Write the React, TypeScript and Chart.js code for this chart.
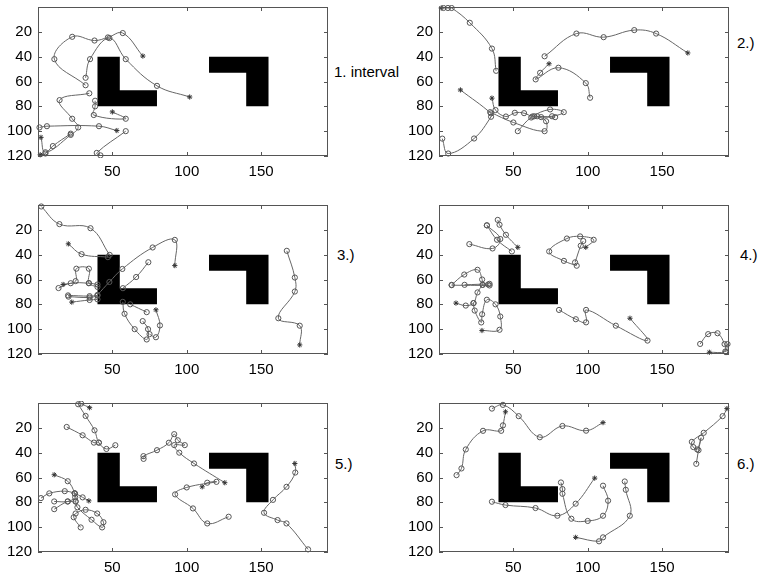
import React, { useEffect, useRef } from "react";
import { Chart, registerables } from "chart.js";
Chart.register(...registerables);

type Pt = [number, number];

// Axis definition (image coordinates, y downward)
const xRange: Pt = [0, 195];
const yRange: Pt = [0, 120];
const xTicks = [50, 100, 150];
const yTicks = [20, 40, 60, 80, 100, 120];

// Obstacles (data coordinates)
const obstacleL: Pt[] = [[40, 40], [55, 40], [55, 67], [80, 67], [80, 80], [40, 80]];
const obstacleR: Pt[] = [[115, 40], [155, 40], [155, 80], [140, 80], [140, 53], [115, 53]];

const panelLabels = ["1. interval", "2.)", "3.)", "4.)", "5.)", "6.)"];

// Trajectories: when starred, the first point is drawn as '*'
const panel1Tracks: Pt[][] = [
  [[70.5, 39.5], [57, 21], [47, 24.5], [38, 27], [23, 24], [11, 42], [32, 63]],
  [[102, 72.5], [80, 63.5], [59, 42], [48, 25], [35, 42], [32, 57]],
  [[2, 105], [5, 117], [22, 103], [27, 97], [23, 90], [14.5, 75], [34.5, 69.5]],
  [[50, 84.5], [59, 90], [37.5, 87], [38.4, 80], [38.4, 75.5]],
  [[53, 99.5], [41, 96], [6, 96], [1, 97]],
  [[59, 100], [39.5, 117.5], [42, 119.5]],
  [[1.5, 119], [5, 118], [10, 112], [22, 102]],
];
const panel1Starred = [true, true, true, true, true, false, true];

const panel2Tracks: Pt[][] = [
  [[1.5, 0.8], [3, 0.8], [6, 0.8], [8.5, 0.8], [20.7, 12.7], [35.6, 33.5], [38.4, 51.4]],
  [[167.3, 37], [146, 21.4], [131.3, 18.6], [110.7, 24.3], [92.4, 21.4], [71, 39.7]],
  [[74, 45.7], [68, 53], [65, 58.3], [80.3, 48.9], [98.7, 61.3], [101.6, 73.1]],
  [[14.4, 66.8], [35, 85.7], [35, 88.4], [23.6, 105.9], [6.2, 118], [2.2, 106]],
  [[35.6, 73.4], [38, 83], [45, 88.2], [51, 85.2], [57.2, 85.5], [62.8, 88.2], [68.7, 88.7], [78.1, 88.7]],
  [[53, 100], [62, 89], [74.7, 82.5], [83.9, 84.7], [76, 88], [64, 88]],
  [[34.4, 84.7], [50, 93], [71, 100], [72, 92], [66, 88]],
];
const panel2Starred = [true, true, true, true, true, false, false];

const panel3Tracks: Pt[][] = [
  [[2.2, 1.2], [14.4, 15.4], [35.3, 18.7], [48.2, 40.2]],
  [[20.4, 31.3], [29.3, 39.6], [47, 42]],
  [[92, 48.8], [92, 28.1], [77.1, 34.2], [56.7, 51.5], [48, 62], [40, 72.4]],
  [[74.2, 46.1], [66, 58], [57.1, 67]],
  [[16.9, 64], [25.3, 61.3], [25.8, 51.3], [34.2, 51.3], [34.2, 62.9], [40, 66]],
  [[13.8, 66.9], [22, 63], [34.2, 63], [40, 64]],
  [[20.2, 72.8], [34.7, 73.4], [40, 73], [34.7, 74.5], [20.5, 73.8]],
  [[22.7, 78.2], [34.7, 76.5], [40, 76]],
  [[57, 78], [58.2, 87.6], [65, 100], [73.1, 108.3], [74, 100], [70.4, 93.5]],
  [[79.3, 84.4], [82, 97], [79.3, 106.5], [75, 104]],
  [[62, 80], [73.1, 86.3]],
  [[176, 112.7], [176, 97.2], [161.6, 91.2], [172.7, 69.7], [172.7, 58.4], [167.3, 36.9]],
];
const panel3Starred = [false, true, true, false, true, false, false, true, false, true, false, true];

const panel4Tracks: Pt[][] = [
  [[20.4, 31.5], [36, 35], [41.2, 27.4], [32.2, 16.4]],
  [[32.2, 16.4], [39, 28], [49, 37.4]],
  [[53, 34.1], [45, 24], [40.7, 15.9], [39.5, 12]],
  [[98.7, 34.1], [104, 28], [94.9, 25.3], [86, 27], [74.1, 37.4], [84, 45], [92.6, 48.9]],
  [[91.5, 46.2], [95.3, 32.8], [97, 29]],
  [[8.5, 64.3], [17, 56], [25.9, 52.2], [29, 60], [29.3, 64.3], [33, 64]],
  [[17.2, 64.3], [34, 63.5]],
  [[8.5, 64.6], [34, 64.8]],
  [[11.4, 79], [18, 81], [23.2, 79], [25.9, 70.4], [29.3, 64.3]],
  [[28.9, 101.1], [40.7, 100.5], [41.2, 89.8], [38, 80], [32.2, 76.3], [29, 88], [28.4, 94.6], [24, 85], [23.2, 79]],
  [[128.4, 91.2], [140.2, 109.2], [118.9, 97.2], [98.9, 84.5], [98.9, 94.5], [92, 92], [80.7, 84.5]],
  [[175.6, 111.9], [181, 104], [187.3, 103.3], [192, 112], [193, 118.5]],
  [[181.8, 118.6], [192.5, 118], [194, 112]],
];
const panel4Starred = [false, false, true, true, false, false, false, false, true, true, true, false, true];

const panel5Tracks: Pt[][] = [
  [[27, 1], [32, 10.4], [38, 22], [40.9, 31.9], [46, 37], [52, 34]],
  [[34.7, 3.8], [29, 0.5]],
  [[19.3, 19.3], [30, 26], [37.6, 31.9], [40.9, 31.9]],
  [[10.9, 57.8], [20, 63], [24.7, 72.8], [25.3, 79.3], [20, 79.3], [10.9, 85.5]],
  [[34.2, 78.8], [30, 76], [24.7, 72.8], [18, 71], [7.6, 72.8], [2, 76.6]],
  [[10.9, 79.3], [20, 79.3], [25, 76], [24.7, 72.8]],
  [[28.7, 100.2], [24, 92], [25.3, 89], [32, 86], [39.8, 89], [44, 96], [43.1, 100.2], [36, 94], [26.5, 84], [25.3, 79.3]],
  [[125.6, 64.2], [104.9, 48.7], [95, 40], [91.6, 33.9], [98.7, 33.9], [94, 30], [91.6, 25.1], [88, 32], [80, 38], [70.9, 42.8], [71, 45]],
  [[110.4, 67.5], [113.8, 64.2], [120, 63.5], [100, 68], [92.2, 73.6], [104.2, 84.9], [113.8, 97], [128.2, 91.6]],
  [[172.7, 48.7], [173, 56], [167.1, 67.5], [158, 78], [152, 88.4], [161.1, 94.3], [167.1, 97], [181.6, 117.9]],
];
const panel5Starred = [false, true, false, true, true, false, false, true, true, true];

const panel6Tracks: Pt[][] = [
  [[44.7, 7.1], [43, 18], [41.8, 22.4], [29.6, 22.4], [18, 37.4], [15.1, 52.7], [11.8, 58.1]],
  [[110.3, 15.8], [98.9, 22.3], [83, 18.5], [67.8, 27.6], [53.6, 10.6], [43, 1.5], [35.6, 4.5]],
  [[193.6, 4.5], [190.7, 10.6], [178, 24], [170, 31.3], [171, 35.5], [173.6, 37.4], [176.2, 28], [174.5, 38], [173, 49]],
  [[104.7, 60.5], [91.9, 81.1], [79.6, 90.8], [64.9, 84.6], [44.7, 82.2], [35.6, 79.5]],
  [[82, 64], [83, 69.3], [83, 73.1], [89, 93.2], [100, 95], [110.3, 90.8], [113.7, 78.7], [110.3, 66.6]],
  [[91.9, 108.2], [107.6, 111.4], [110.3, 108.2], [128.3, 90.8], [125.6, 69.9], [124.9, 63.2]],
];
const panel6Starred = [true, true, true, true, false, true];

const allTracks = [panel1Tracks, panel2Tracks, panel3Tracks, panel4Tracks, panel5Tracks, panel6Tracks];
const allStarred = [panel1Starred, panel2Starred, panel3Starred, panel4Starred, panel5Starred, panel6Starred];

// Layout (pixels)
const FRAME_W = 291;
const FRAME_H = 149;
const AXIS_W = 38;
const AXIS_H = 28;
const PAD_TOP = 7;
const PAD_RIGHT = 4;
const panelFrames = [
  { left: 38, top: 7 },
  { left: 439, top: 7 },
  { left: 38, top: 205 },
  { left: 439, top: 205 },
  { left: 38, top: 403 },
  { left: 439, top: 403 },
];
const labelPos = [
  { left: 334, cy: 72 },
  { left: 737, cy: 43 },
  { left: 337, cy: 255 },
  { left: 740, cy: 255 },
  { left: 335, cy: 464 },
  { left: 737, cy: 464 },
];

const FONT = "'Liberation Sans', Arial, Helvetica, sans-serif";
const LINE = "#666";

const framePlugin = {
  id: "frameAndObstacles",
  beforeDatasetsDraw(chart: any) {
    const { ctx, scales } = chart;
    const x = scales.x, y = scales.y;
    ctx.save();
    ctx.fillStyle = "#000";
    for (const poly of [obstacleL, obstacleR]) {
      ctx.beginPath();
      poly.forEach(([px, py], i) => {
        const X = x.getPixelForValue(px);
        const Y = y.getPixelForValue(py);
        if (i === 0) ctx.moveTo(X, Y);
        else ctx.lineTo(X, Y);
      });
      ctx.closePath();
      ctx.fill();
    }
    ctx.restore();
  },
  afterDatasetsDraw(chart: any) {
    const { ctx, chartArea: a, scales } = chart;
    const x = scales.x, y = scales.y;
    ctx.save();
    ctx.strokeStyle = "#555";
    ctx.lineWidth = 1;
    ctx.strokeRect(Math.round(a.left) + 0.5, Math.round(a.top) + 0.5, Math.round(a.right - a.left) - 1, Math.round(a.bottom - a.top) - 1);
    ctx.beginPath();
    const tl = 4;
    for (const v of xTicks) {
      const X = Math.round(x.getPixelForValue(v)) + 0.5;
      ctx.moveTo(X, a.bottom);
      ctx.lineTo(X, a.bottom - tl);
      ctx.moveTo(X, a.top);
      ctx.lineTo(X, a.top + tl);
    }
    for (const v of yTicks) {
      const Y = Math.round(y.getPixelForValue(v)) + 0.5;
      ctx.moveTo(a.left, Y);
      ctx.lineTo(a.left + tl, Y);
      ctx.moveTo(a.right, Y);
      ctx.lineTo(a.right - tl, Y);
    }
    ctx.stroke();
    ctx.restore();
  },
};

function Panel({ index }: { index: number }) {
  const ref = useRef<HTMLCanvasElement | null>(null);
  useEffect(() => {
    if (!ref.current) return;
    const tracks = allTracks[index];
    const starred = allStarred[index];
    const datasets = tracks.map((tr, ti) => ({
      data: tr.map(([px, py]) => ({ x: px, y: py })),
      showLine: true,
      tension: 0.4,
      borderColor: LINE,
      borderWidth: 1,
      pointStyle: tr.map((_, i) => (i === 0 && starred[ti] ? "star" : "circle")),
      pointRadius: tr.map((_, i) => (i === 0 && starred[ti] ? 2.6 : 2.6)),
      pointBorderColor: tr.map((_, i) => (i === 0 && starred[ti] ? "#333" : "#555")),
      pointBackgroundColor: "rgba(255,255,255,0)",
      pointBorderWidth: 1,
      clip: 2,
    }));
    const chart = new Chart(ref.current, {
      type: "scatter",
      data: { datasets } as any,
      options: {
        animation: false,
        responsive: false,
        devicePixelRatio: 1,
        events: [],
        layout: { padding: { left: 0, right: PAD_RIGHT, top: PAD_TOP, bottom: 0 } },
        plugins: { legend: { display: false }, tooltip: { enabled: false } },
        scales: {
          x: {
            type: "linear",
            min: xRange[0],
            max: xRange[1],
            grid: { display: false, drawTicks: false },
            border: { display: false },
            ticks: { color: "#000", font: { family: FONT, size: 15 }, padding: 7, maxRotation: 0 },
            afterBuildTicks: (s: any) => {
              s.ticks = xTicks.map((v) => ({ value: v }));
            },
            afterFit: (s: any) => {
              s.height = AXIS_H;
              s.paddingLeft = 0;
              s.paddingRight = 0;
            },
          },
          y: {
            type: "linear",
            reverse: true,
            min: yRange[0],
            max: yRange[1],
            grid: { display: false, drawTicks: false },
            border: { display: false },
            ticks: { color: "#000", font: { family: FONT, size: 15 }, padding: 6 },
            afterBuildTicks: (s: any) => {
              s.ticks = yTicks.map((v) => ({ value: v }));
            },
            afterFit: (s: any) => {
              s.width = AXIS_W;
              s.paddingTop = 0;
              s.paddingBottom = 0;
            },
          },
        },
      } as any,
      plugins: [framePlugin],
    });
    return () => chart.destroy();
  }, [index]);
  const f = panelFrames[index];
  const w = AXIS_W + FRAME_W + PAD_RIGHT;
  const h = PAD_TOP + FRAME_H + AXIS_H;
  return (
    <canvas
      ref={ref}
      width={w}
      height={h}
      style={{ position: "absolute", left: f.left - AXIS_W, top: f.top - PAD_TOP, width: w, height: h }}
    />
  );
}

export default function App() {
  return (
    <div style={{ position: "fixed", left: 0, top: 0, width: 758, height: 576, background: "#fff", overflow: "hidden" }}>
      {panelLabels.map((_, i) => (
        <Panel key={i} index={i} />
      ))}
      {panelLabels.map((t, i) => (
        <div
          key={"l" + i}
          style={{
            position: "absolute",
            left: labelPos[i].left,
            top: labelPos[i].cy - 9,
            height: 18,
            lineHeight: "18px",
            fontFamily: FONT,
            fontSize: 15,
            color: "#000",
            whiteSpace: "nowrap",
          }}
        >
          {t}
        </div>
      ))}
    </div>
  );
}
